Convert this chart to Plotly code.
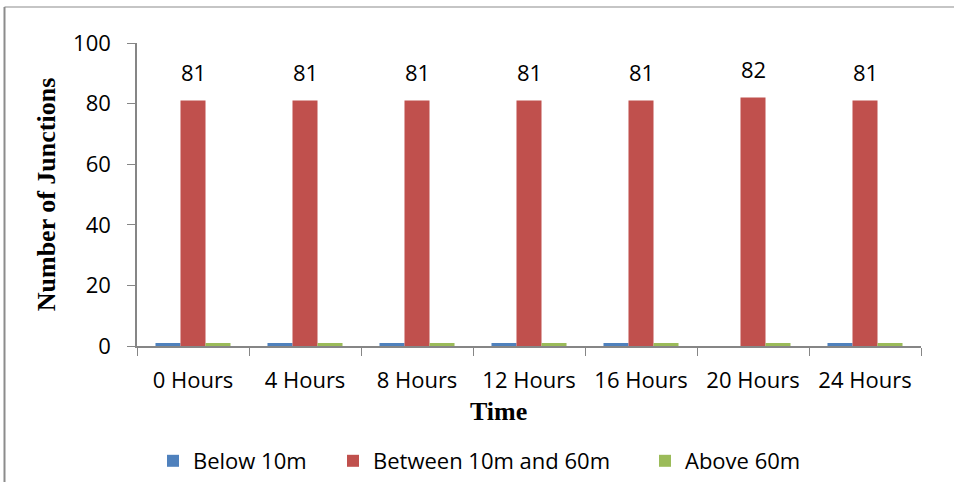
import plotly.graph_objects as go

# Junction counts by pressure band at each time step
times = ["0 Hours", "4 Hours", "8 Hours", "12 Hours", "16 Hours", "20 Hours", "24 Hours"]
below_10m = [1, 1, 1, 1, 1, 0, 1]
between_10_60m = [81, 81, 81, 81, 81, 82, 81]
above_60m = [1, 1, 1, 1, 1, 1, 1]

series_names = ["Below 10m", "Between 10m and 60m", "Above 60m"]
colors = ["#4F81BD", "#C0504D", "#9BBB59"]

W, H = 954, 482
L, R, T, B = 137, 33, 43, 136
plot_w = W - L - R
plot_h = H - T - B


def px_x(px):
    return (px - L) / plot_w


def px_y(py):
    return (H - B - py) / plot_h


label_font = dict(family="Open Sans", size=22, color="#000000")
title_font = dict(family="Liberation Serif", size=26, color="#000000")
axis_grey = "#868686"

fig = go.Figure()
series = [below_10m, between_10_60m, above_60m]
for i, (name, vals, col) in enumerate(zip(series_names, series, colors)):
    fig.add_trace(go.Bar(
        x=times, y=vals, name=name,
        marker=dict(color=col, line=dict(width=0)),
        legend="legend" if i == 0 else f"legend{i + 1}",
    ))

# Value labels above the middle series
for t, v in zip(times, between_10_60m):
    fig.add_annotation(
        x=t, y=v, text=str(v), showarrow=False,
        yanchor="middle", yshift=29, font=label_font,
    )

# X axis title
fig.add_annotation(
    x=px_x(498), y=px_y(411), xref="paper", yref="paper",
    text="<b>Time</b>", showarrow=False, font=title_font,
    xanchor="center", yanchor="middle",
)

# Outer frame lines (top and left)
fig.add_shape(type="line", xref="paper", yref="paper",
              x0=px_x(4.5), x1=px_x(960), y0=px_y(7), y1=px_y(7),
              line=dict(color="#8c8c8c", width=1.2))
fig.add_shape(type="line", xref="paper", yref="paper",
              x0=px_x(4.5), x1=px_x(4.5), y0=px_y(7), y1=px_y(490),
              line=dict(color="#8c8c8c", width=2))

legend_x = [153, 333, 645]
legend_common = dict(orientation="h", xanchor="left", yanchor="middle",
                     font=label_font, bgcolor="rgba(0,0,0,0)", borderwidth=0)
layout_legends = {}
for i, lx in enumerate(legend_x):
    key = "legend" if i == 0 else f"legend{i + 1}"
    layout_legends[key] = dict(x=px_x(lx), y=px_y(461), **legend_common)

fig.update_layout(
    width=W, height=H,
    margin=dict(l=L, r=R, t=T, b=B, autoexpand=False),
    paper_bgcolor="white", plot_bgcolor="white",
    barmode="group", bargap=0.33, bargroupgap=0,
    showlegend=True,
    xaxis=dict(
        type="category", tickson="boundaries", ticks="outside", ticklen=8,
        tickcolor=axis_grey, showline=True, linecolor=axis_grey, linewidth=1.5,
        showgrid=False, tickfont=label_font, ticklabelstandoff=14,
    ),
    yaxis=dict(
        range=[0, 100], dtick=20, ticks="outside", ticklen=8,
        tickcolor=axis_grey, showline=True, linecolor=axis_grey, linewidth=1.5,
        showgrid=False, zeroline=False, tickfont=label_font, ticklabelstandoff=12,
        title=dict(text="<b>Number of Junctions</b>", font=title_font, standoff=10),
    ),
    **layout_legends,
)

fig.write_html("out.html")
